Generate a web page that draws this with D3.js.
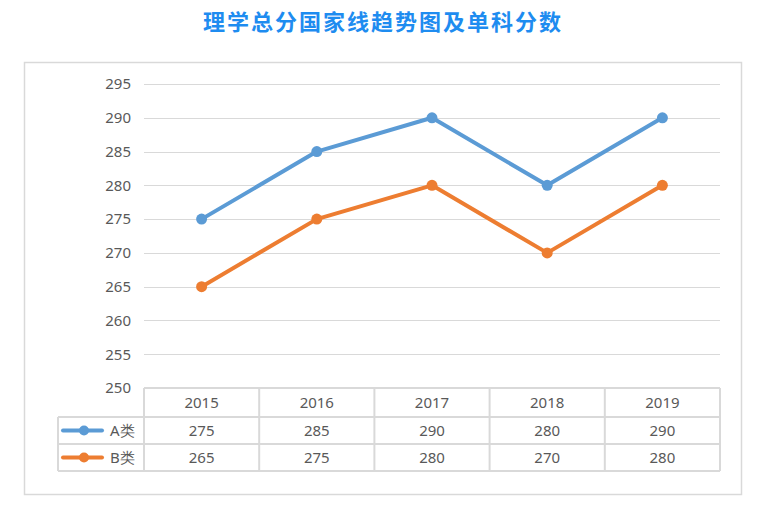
<!DOCTYPE html>
<html><head><meta charset="utf-8">
<script src="https://cdn.jsdelivr.net/npm/d3@7"></script>
<style>body{margin:0;background:#fff;} svg{display:block;}</style>
</head><body>
<svg id="c" width="758" height="511"></svg>
<script>
const title = "理学总分国家线趋势图及单科分数";
const years = ["2015","2016","2017","2018","2019"];
const seriesNames = ["A类","B类"];
const seriesA = [275,285,290,280,290];
const seriesB = [265,275,280,270,280];
const yTicks = [250,255,260,265,270,275,280,285,290,295];
const colors = ["#5B9BD5","#ED7D31"];

const svg = d3.select("#c");
const txt = "#595959", grid = "#D9D9D9";
const font = "'Noto Sans', 'Open Sans', sans-serif";

// outer border
svg.append("rect").attr("x",24.5).attr("y",62.5).attr("width",717).attr("height",432)
  .attr("fill","none").attr("stroke",grid).attr("stroke-width",1.5);

// title
svg.append("text").attr("x",383).attr("y",30).attr("text-anchor","middle")
  .attr("font-family","'Noto Sans CJK SC', sans-serif").attr("font-size",22).attr("font-weight","bold")
  .attr("letter-spacing",2).attr("fill","#1E8CF0").text(title);

const x = d3.scaleBand().domain(years).range([144,720]).padding(0);
const y = d3.scaleLinear().domain([250,295]).range([388,84]);

// gridlines
svg.append("g").selectAll("line").data(yTicks.filter(d=>d>250)).join("line")
  .attr("x1",144).attr("x2",720).attr("y1",d=>Math.round(y(d))+0.5).attr("y2",d=>Math.round(y(d))+0.5)
  .attr("stroke",grid).attr("stroke-width",1.2);

// y axis labels
const yAxis = d3.axisLeft(y).tickValues(yTicks).tickSize(0).tickPadding(13);
const ga = svg.append("g").attr("transform","translate(144,0)").call(yAxis);
ga.select(".domain").remove();
ga.selectAll("text").attr("font-family",font).attr("font-size",15).attr("fill",txt);

// data table
const tableTop = 388, rowH = [29,27,27];
const rows = [tableTop, tableTop+rowH[0], tableTop+rowH[0]+rowH[1], tableTop+rowH[0]+rowH[1]+rowH[2]];
const tg = svg.append("g").attr("stroke",grid).attr("stroke-width",2).attr("fill","none");
tg.append("line").attr("x1",144).attr("x2",720).attr("y1",rows[0]).attr("y2",rows[0]);
[1,2,3].forEach(i=>tg.append("line").attr("x1",58).attr("x2",720).attr("y1",rows[i]).attr("y2",rows[i]));
years.forEach(yr=>tg.append("line").attr("x1",x(yr)).attr("x2",x(yr)).attr("y1",rows[0]).attr("y2",rows[3]));
tg.append("line").attr("x1",720).attr("x2",720).attr("y1",rows[0]).attr("y2",rows[3]);
tg.append("line").attr("x1",58).attr("x2",58).attr("y1",rows[1]).attr("y2",rows[3]);

// header
svg.append("g").selectAll("text").data(years).join("text")
  .attr("x",d=>x(d)+x.bandwidth()/2).attr("y",(rows[0]+rows[1])/2+5)
  .attr("text-anchor","middle").attr("font-family",font).attr("font-size",15).attr("fill",txt).text(d=>d);

const allSeries = [seriesA, seriesB];
allSeries.forEach((vals,si)=>{
  const cy = (rows[si+1]+rows[si+2])/2;
  svg.append("g").selectAll("text").data(vals).join("text")
    .attr("x",(d,i)=>x(years[i])+x.bandwidth()/2).attr("y",cy+5)
    .attr("text-anchor","middle").attr("font-family",font).attr("font-size",15).attr("fill",txt).text(d=>d);
  svg.append("line").attr("x1",63).attr("x2",102).attr("y1",cy).attr("y2",cy)
    .attr("stroke",colors[si]).attr("stroke-width",4).attr("stroke-linecap","round");
  svg.append("circle").attr("cx",84).attr("cy",cy).attr("r",5).attr("fill",colors[si]);
  svg.append("text").attr("x",110).attr("y",cy+5).attr("font-family",font).attr("font-size",15)
    .attr("fill",txt).text(seriesNames[si]);
});

// lines
const line = d3.line().x((d,i)=>x(years[i])+x.bandwidth()/2).y(d=>y(d));
allSeries.forEach((vals,si)=>{
  svg.append("path").datum(vals).attr("d",line).attr("fill","none")
    .attr("stroke",colors[si]).attr("stroke-width",4).attr("stroke-linejoin","round").attr("stroke-linecap","round");
  svg.append("g").selectAll("circle").data(vals).join("circle")
    .attr("cx",(d,i)=>x(years[i])+x.bandwidth()/2).attr("cy",d=>y(d)).attr("r",5.5).attr("fill",colors[si]);
});
</script>
</body></html>
